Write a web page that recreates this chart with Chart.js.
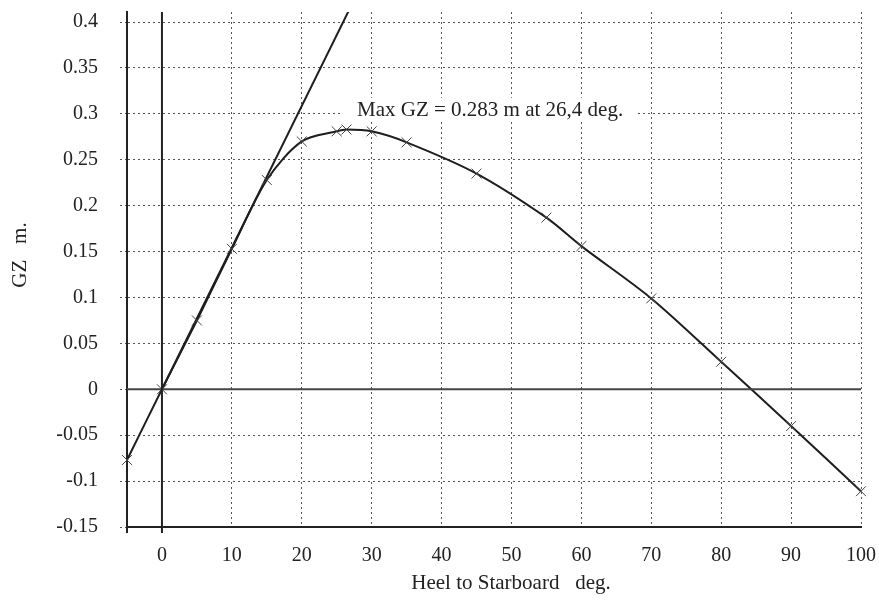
<!DOCTYPE html>
<html>
<head>
<meta charset="utf-8">
<script src="https://cdn.jsdelivr.net/npm/chart.js@4.4.1/dist/chart.umd.min.js"></script>
<style>
  html, body { margin: 0; padding: 0; background: #fff; }
  #wrap { width: 879px; height: 610px; }
</style>
</head>
<body>
<div id="wrap"><canvas id="gz"></canvas></div>
<script>
// heel angle (deg) and righting lever GZ (m)
const heel = [-5, 0, 5, 10, 15, 20, 25, 26.4, 30, 35, 45, 55, 60, 70, 80, 90, 100];
const gz = [-0.077, 0, 0.075, 0.153, 0.228, 0.270, 0.281, 0.283, 0.281, 0.269, 0.235, 0.187, 0.156, 0.099, 0.030, -0.040, -0.111];

// initial slope line
const slopeX = [0, 30];
const slopeY = [0, 0.463];

const xTicks = [0, 10, 20, 30, 40, 50, 60, 70, 80, 90, 100];
const yTicks = [-0.15, -0.1, -0.05, 0, 0.05, 0.1, 0.15, 0.2, 0.25, 0.3, 0.35, 0.4];

const xTitle = 'Heel to Starboard   deg.';
const yTitle = 'GZ   m.';
const maxLabel = 'Max GZ = 0.283 m at 26,4 deg.';
const serif = '"Liberation Serif", "Times New Roman", serif';

// solid zero lines, small ticks below the axis, axis titles and the max GZ label
const extras = {
  id: 'extras',
  afterDatasetsDraw(chart) {
    const { ctx, chartArea: a, scales: { x, y } } = chart;
    const x0 = x.getPixelForValue(0);
    const y0 = y.getPixelForValue(0);
    ctx.save();
    ctx.lineWidth = 2;
    ctx.strokeStyle = '#444';
    ctx.beginPath();
    ctx.moveTo(a.left, y0);
    ctx.lineTo(a.right, y0);
    ctx.stroke();
    ctx.strokeStyle = '#222';
    ctx.beginPath();
    ctx.moveTo(x0, a.top);
    ctx.lineTo(x0, a.bottom + 6);
    ctx.moveTo(a.left, a.bottom);
    ctx.lineTo(a.left, a.bottom + 6);
    ctx.stroke();

    ctx.font = '21px ' + serif;
    ctx.textBaseline = 'alphabetic';
    ctx.textAlign = 'left';
    const tx = x.getPixelForValue(27.9);
    const ty = y.getPixelForValue(0.298);
    const w = ctx.measureText(maxLabel).width;
    ctx.fillStyle = '#fff';
    ctx.fillRect(tx - 14, ty - 18, w + 26, 24);
    ctx.fillStyle = '#222';
    ctx.fillText(maxLabel, tx, ty);

    ctx.textAlign = 'center';
    ctx.textBaseline = 'middle';
    ctx.fillText(xTitle, a.left + 384, a.bottom + 56);
    ctx.translate(20, a.top + 243);
    ctx.rotate(-Math.PI / 2);
    ctx.fillText(yTitle, 0, 0);
    ctx.restore();
  }
};

new Chart(document.getElementById('gz'), {
  type: 'scatter',
  data: {
    datasets: [
      {
        label: 'GZ',
        data: heel.map((h, i) => ({ x: h, y: gz[i] })),
        showLine: true,
        tension: 0.3,
        borderColor: '#1e1e1e',
        borderWidth: 2,
        pointStyle: 'crossRot',
        pointRadius: 7,
        pointBorderColor: '#444',
        pointBorderWidth: 1,
        clip: 8
      },
      {
        label: 'slope',
        data: slopeX.map((s, i) => ({ x: s, y: slopeY[i] })),
        showLine: true,
        borderColor: '#1e1e1e',
        borderWidth: 2,
        pointRadius: 0,
        clip: 0
      }
    ]
  },
  options: {
    responsive: true,
    maintainAspectRatio: false,
    animation: false,
    events: [],
    layout: { padding: { top: 12, right: 18, left: 0, bottom: 0 } },
    plugins: {
      legend: { display: false },
      tooltip: { enabled: false }
    },
    scales: {
      x: {
        type: 'linear',
        min: -5,
        max: 100,
        afterBuildTicks: s => { s.ticks = xTicks.map(v => ({ value: v })); },
        afterFit: s => { s.height = 83; s.paddingLeft = 0; s.paddingRight = 0; },
        grid: {
          color: '#555',
          lineWidth: 1,
          drawTicks: false
        },
        border: { display: true, color: '#222', width: 2, dash: [2, 3] },
        ticks: {
          padding: 17,
          color: '#222',
          font: { family: serif, size: 20 },
          maxRotation: 0,
          callback: v => String(v)
        }
      },
      y: {
        min: -0.15,
        max: 0.411,
        afterBuildTicks: s => { s.ticks = yTicks.map(v => ({ value: v })); },
        afterFit: s => { s.width = 127; s.paddingTop = 0; s.paddingBottom = 0; },
        grid: {
          color: '#555',
          lineWidth: 1,
          tickLength: 7,
          tickBorderDash: [2, 3]
        },
        border: { display: true, color: '#222', width: 2, dash: [2, 3] },
        ticks: {
          padding: 22,
          color: '#222',
          font: { family: serif, size: 20 },
          callback: v => String(+v.toFixed(2))
        }
      }
    }
  },
  plugins: [extras]
});
</script>
</body>
</html>
